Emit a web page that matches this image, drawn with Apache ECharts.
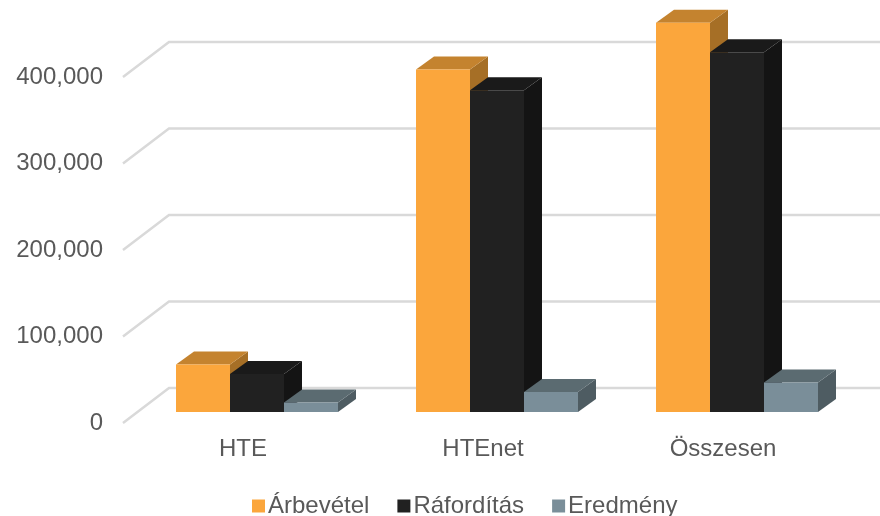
<!DOCTYPE html>
<html>
<head>
<meta charset="utf-8">
<script src="https://cdn.jsdelivr.net/npm/echarts@6/dist/echarts.min.js"></script>
<style>html,body{margin:0;padding:0;background:#fff}#c{width:880px;height:516px}</style>
</head>
<body>
<div id="c"></div>
<script>
const categories = ['HTE', 'HTEnet', 'Összesen'];
const seriesNames = ['Árbevétel', 'Ráfordítás', 'Eredmény'];
const arbevetel = [55000, 396000, 450000];
const raforditas = [44000, 372000, 416000];
const eredmeny = [11000, 23000, 34000];
const yTicks = [0, 100000, 200000, 300000, 400000];

const FONT = '"Liberation Sans", Arial, sans-serif';
// depth geometry (pixels)
const FLOOR_DX = 46, FLOOR_DY = 35;
const OFF_DX = 14, OFF_DY = 11;
const BAR_DX = 18, BAR_DY = 13;

const palettes = [
  { front: '#FBA63C', top: '#C4832F', side: '#A66F26' },
  { front: '#212121', top: '#1A1A1A', side: '#141414' },
  { front: '#7A8E99', top: '#5B6B71', side: '#4E5C62' }
];

function barRender(sIdx) {
  return function (params, api) {
    const xi = api.value(0), v = api.value(1);
    const c = api.coord([xi, v]);
    const c0 = api.coord([xi, 0]);
    const band = api.size([1, 0])[0];
    const bw = band * 0.225;
    const x0 = c[0] - 1.5 * bw + sIdx * bw + OFF_DX;
    const x1 = x0 + bw;
    const yTop = c[1] - OFF_DY;
    const yBot = c0[1] - OFF_DY;
    const p = palettes[sIdx];
    return {
      type: 'group',
      children: [
        { type: 'polygon', shape: { points: [[x1, yTop], [x1 + BAR_DX, yTop - BAR_DY], [x1 + BAR_DX, yBot - BAR_DY], [x1, yBot]] }, style: { fill: p.side } },
        { type: 'polygon', shape: { points: [[x0, yTop], [x1, yTop], [x1 + BAR_DX, yTop - BAR_DY], [x0 + BAR_DX, yTop - BAR_DY]] }, style: { fill: p.top } },
        { type: 'rect', shape: { x: x0, y: yTop, width: bw, height: yBot - yTop }, style: { fill: p.front } }
      ]
    };
  };
}

function gridRender(params, api) {
  const c = api.coord([0, api.value(1)]);
  const band = api.size([1, 0])[0];
  const left = c[0] - band / 2;
  const right = left + band * categories.length + FLOOR_DX;
  return {
    type: 'polyline',
    shape: { points: [[left, c[1]], [left + FLOOR_DX, c[1] - FLOOR_DY], [right, c[1] - FLOOR_DY]] },
    style: { stroke: '#D9D9D9', lineWidth: 2.5, fill: null }
  };
}

const values = [arbevetel, raforditas, eredmeny];
const series = [{
  type: 'custom',
  name: '_grid',
  renderItem: gridRender,
  data: yTicks.map(t => [0, t]),
  encode: { x: 0, y: 1 },
  silent: true,
  z: 1
}];
values.forEach((arr, i) => {
  series.push({
    type: 'custom',
    name: seriesNames[i],
    renderItem: barRender(i),
    data: arr.map((v, k) => [k, v]),
    encode: { x: 0, y: 1 },
    itemStyle: { color: palettes[i].front },
    z: 2
  });
});

const chart = echarts.init(document.getElementById('c'), null, { renderer: 'canvas' });
chart.setOption({
  animation: false,
  backgroundColor: '#ffffff',
  grid: { left: 123, right: 37, top: 77, bottom: 93 },
  xAxis: {
    type: 'category',
    data: categories,
    axisLine: { show: false },
    axisTick: { show: false },
    axisLabel: { color: '#595959', fontSize: 24, fontFamily: FONT, margin: 14 }
  },
  yAxis: {
    type: 'value',
    min: 0,
    max: 400000,
    interval: 100000,
    splitLine: { show: false },
    axisLine: { show: false },
    axisTick: { show: false },
    axisLabel: {
      color: '#595959', fontSize: 24, fontFamily: FONT, margin: 20,
      formatter: v => v.toLocaleString('en-US')
    }
  },
  legend: {
    data: seriesNames,
    left: 252,
    top: 494,
    padding: 0,
    itemWidth: 13,
    itemHeight: 13,
    itemGap: 28,
    icon: 'rect',
    textStyle: { color: '#595959', fontSize: 24, fontFamily: FONT, padding: [0, 0, 0, -2] }
  },
  series: series
});
</script>
</body>
</html>
